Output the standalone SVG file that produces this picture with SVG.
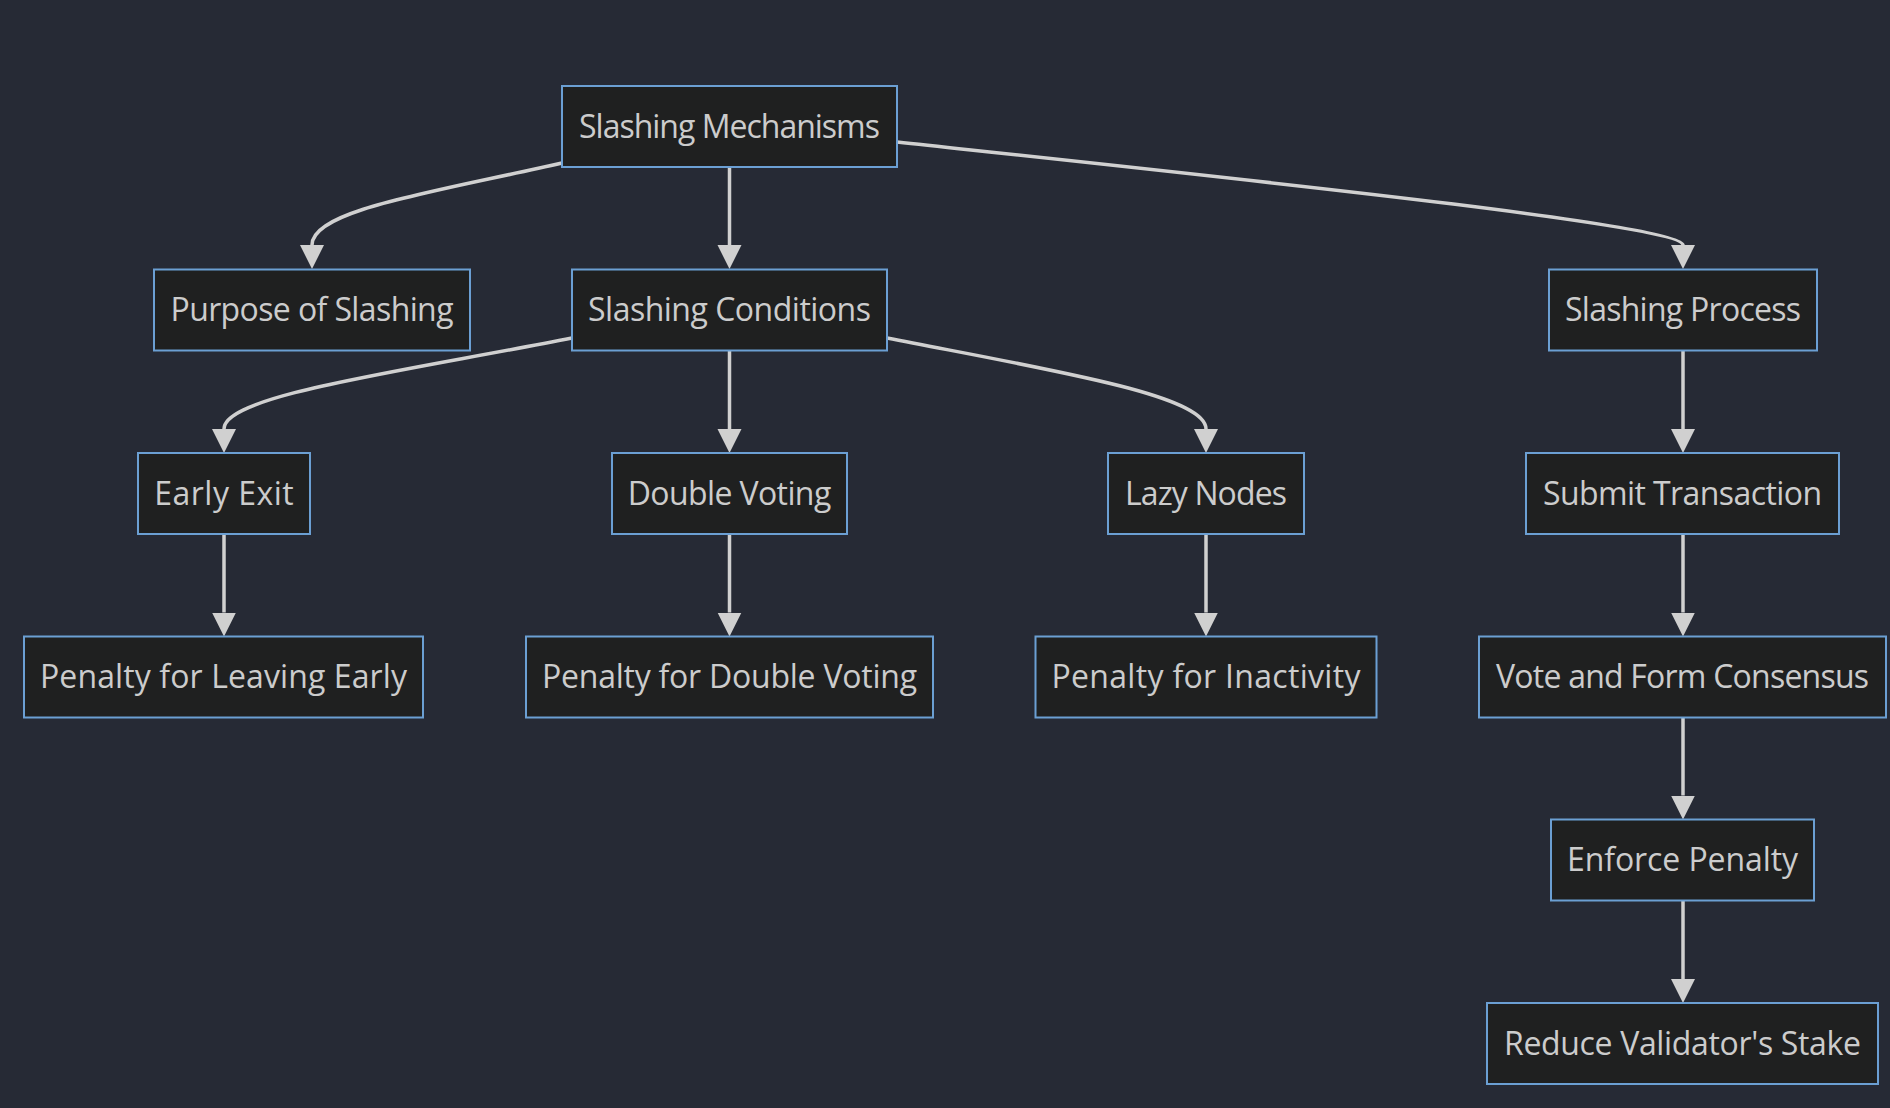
<svg xmlns="http://www.w3.org/2000/svg" width="1890" height="1108" viewBox="0 0 1890 1108">
<style>
.bg{fill:#262a35}
.node rect{fill:#1f2020;stroke:#6b9fd3;stroke-width:2}
.node text{fill:#cccccc;font-family:"Open Sans","DejaVu Sans",sans-serif;font-size:32px;text-anchor:middle}
.edge{fill:none;stroke:#d0d0d0;stroke-width:3.5;marker-end:url(#arrow)}
</style>
<defs>
<marker id="arrow" markerUnits="userSpaceOnUse" markerWidth="26" markerHeight="26" refX="0" refY="12" orient="auto" viewBox="0 0 26 24">
<path d="M0,0 L24,12 L0,24 z" fill="#d0d0d0"/>
</marker>
</defs>
<rect class="bg" x="0" y="0" width="1890" height="1108"/>
<g id="connectors">
<path class="edge" d="M562,163 C430,193 312,210 312,245"/>
<path class="edge" d="M729.5,167 L729.5,245"/>
<path class="edge" d="M897,142 C1250,180 1683,225 1683,245"/>
<path class="edge" d="M572,338 C400,372 224,395 224,429"/>
<path class="edge" d="M729.5,350.5 L729.5,429"/>
<path class="edge" d="M887,338 C1050,370 1206,395 1206,429"/>
<path class="edge" d="M1683,350.5 L1683,429"/>
<path class="edge" d="M224,534 L224,612.5"/>
<path class="edge" d="M729.5,534 L729.5,612.5"/>
<path class="edge" d="M1206,534 L1206,612.5"/>
<path class="edge" d="M1683,534 L1683,612.5"/>
<path class="edge" d="M1683,717.5 L1683,795.5"/>
<path class="edge" d="M1683,900.5 L1683,979"/>
</g>
<g id="n-mechanisms" class="node"><rect x="562" y="86" width="335" height="81"/><text x="729.5" y="137.5" textLength="301">Slashing Mechanisms</text></g>
<g id="n-purpose" class="node"><rect x="154" y="269.5" width="316" height="81"/><text x="312" y="321" textLength="283">Purpose of Slashing</text></g>
<g id="n-conditions" class="node"><rect x="572" y="269.5" width="315" height="81"/><text x="729.5" y="321" textLength="283">Slashing Conditions</text></g>
<g id="n-process" class="node"><rect x="1549" y="269.5" width="268" height="81"/><text x="1683" y="321" textLength="236">Slashing Process</text></g>
<g id="n-earlyexit" class="node"><rect x="138" y="453" width="172" height="81"/><text x="224" y="504.5" textLength="139.5">Early Exit</text></g>
<g id="n-doublevoting" class="node"><rect x="612" y="453" width="235" height="81"/><text x="729.5" y="504.5" textLength="203.5">Double Voting</text></g>
<g id="n-lazynodes" class="node"><rect x="1108" y="453" width="196" height="81"/><text x="1206" y="504.5" textLength="162">Lazy Nodes</text></g>
<g id="n-submit" class="node"><rect x="1526" y="453" width="313" height="81"/><text x="1682.5" y="504.5" textLength="279">Submit Transaction</text></g>
<g id="n-penaltyleaving" class="node"><rect x="24" y="636.5" width="399" height="81"/><text x="223.5" y="688" textLength="367">Penalty for Leaving Early</text></g>
<g id="n-penaltydouble" class="node"><rect x="526" y="636.5" width="407" height="81"/><text x="729.5" y="688" textLength="375">Penalty for Double Voting</text></g>
<g id="n-penaltyinactivity" class="node"><rect x="1035.5" y="636.5" width="341" height="81"/><text x="1206" y="688" textLength="309">Penalty for Inactivity</text></g>
<g id="n-vote" class="node"><rect x="1479" y="636.5" width="407" height="81"/><text x="1682.5" y="688" textLength="373">Vote and Form Consensus</text></g>
<g id="n-enforce" class="node"><rect x="1551" y="819.5" width="263" height="81"/><text x="1682.5" y="871" textLength="231">Enforce Penalty</text></g>
<g id="n-reduce" class="node"><rect x="1487" y="1003" width="391" height="81"/><text x="1682.5" y="1054.5" textLength="357">Reduce Validator's Stake</text></g>
</svg>
